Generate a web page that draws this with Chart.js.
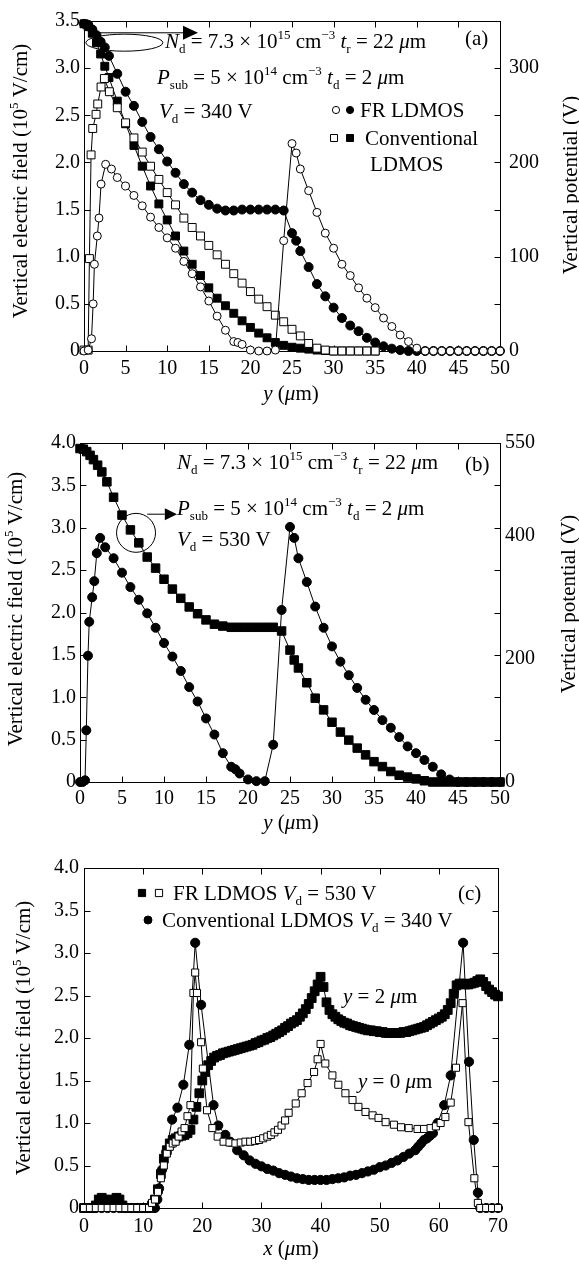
<!DOCTYPE html>
<html>
<head>
<meta charset="utf-8">
<script src="https://cdn.jsdelivr.net/npm/chart.js@4"></script>
<style>
  html, body { margin: 0; padding: 0; background: #fff; }
  body { width: 579px; height: 1267px; position: relative; overflow: hidden; }
  canvas { position: absolute; left: 0; }
</style>
</head>
<body>
<canvas id="ca" width="579" height="415" style="top:0px"></canvas>
<canvas id="cb" width="579" height="420" style="top:420px"></canvas>
<canvas id="cc" width="579" height="427" style="top:840px"></canvas>
<script>
// ---- panel (a): y in um, field in 1e5 V/cm, potential in V ----
const aFrFieldX = [0, 0.5, 0.9, 1.1, 1.25, 1.6, 1.8, 2.05, 2.6, 3.3, 4, 5, 6, 7, 8, 9, 10, 11, 12, 13, 14, 15, 16, 17, 18, 18.5, 19, 20, 21, 22, 23, 24, 25, 25.5, 26, 27, 28, 29, 30, 31, 32, 33, 34, 35, 36, 37, 38, 39, 40, 41, 42, 43, 44, 45, 46, 47, 48, 49, 50];
const aFrFieldE = [0, 0.01, 0.13, 0.5, 0.92, 1.22, 1.41, 1.77, 1.98, 1.93, 1.84, 1.75, 1.65, 1.54, 1.42, 1.31, 1.2, 1.09, 0.95, 0.82, 0.68, 0.53, 0.37, 0.22, 0.1, 0.09, 0.07, 0.01, 0, 0, 0.01, 1.17, 2.2, 2.1, 1.93, 1.7, 1.47, 1.25, 1.09, 0.92, 0.8, 0.67, 0.56, 0.46, 0.35, 0.26, 0.17, 0.1, 0.03, 0, 0, 0, 0, 0, 0, 0, 0, 0, 0];
const aConFieldX = [0, 0.5, 0.65, 0.85, 1.05, 1.45, 1.65, 2.05, 2.45, 3.05, 4, 5, 6, 7, 8, 9, 10, 11, 12, 13, 14, 15, 16, 17, 18, 19, 20, 21, 22, 23, 24, 25, 26, 27, 28, 29, 30, 31, 32, 33, 34, 35];
const aConFieldE = [0.01, 0.01, 0.98, 2.08, 2.36, 2.51, 2.62, 2.8, 2.89, 2.75, 2.58, 2.42, 2.26, 2.11, 1.96, 1.82, 1.68, 1.55, 1.41, 1.31, 1.22, 1.12, 1.02, 0.92, 0.82, 0.72, 0.63, 0.55, 0.47, 0.38, 0.31, 0.23, 0.16, 0.08, 0.03, 0.01, 0, 0, 0, 0, 0, 0];
const aFrPotX = [0, 0.5, 1, 1.5, 2, 2.5, 3, 4, 5, 6, 7, 8, 9, 10, 11, 12, 13, 14, 15, 16, 17, 18, 19, 20, 21, 22, 23, 24, 25, 25.5, 26, 27, 28, 29, 30, 31, 32, 33, 34, 35, 36, 37, 38, 39, 40, 41, 42, 43, 44, 45, 46, 47, 48, 49, 50];
const aFrPotV = [347, 346, 341, 335, 328, 322, 313, 294, 275, 260, 243, 227, 214, 201, 189, 177, 168, 160, 155, 151, 149, 149, 150, 150, 150, 150, 150, 149, 125, 117, 106, 89, 71, 58, 46, 35, 27, 21, 14, 9, 5, 2.5, 1, 0, 0, 0, 0, 0, 0, 0, 0, 0, 0, 0, 0];
const aConPotX = [0, 0.5, 1, 1.5, 2, 2.5, 3, 4, 5, 6, 7, 8, 9, 10, 11, 12, 13, 14, 15, 16, 17, 18, 19, 20, 21, 22, 23, 24, 25, 26, 27, 28, 29, 30, 31, 32, 33, 34, 35];
const aConPotV = [347, 344, 337, 327, 315, 302, 290, 265, 241, 218, 196, 175, 156, 139, 122, 106, 92, 80, 67, 56, 48, 40, 32, 25, 19, 14, 9, 6, 4, 3, 2, 1, 0.5, 0, 0, 0, 0, 0, 0];
const aRightTicks = [0, 100, 200, 300];

// ---- panel (b) ----
const bPotX = [0, 0.4, 0.8, 1.2, 1.6, 2.1, 2.6, 3.2, 4, 5, 6, 7, 8, 9, 10, 11, 12, 13, 14, 15, 16, 17, 18, 19, 20, 21, 22, 23, 24, 25, 25.5, 26, 27, 28, 29, 30, 31, 32, 33, 34, 35, 36, 37, 38, 39, 40, 41, 42, 43, 44, 45, 46, 47, 48, 49, 50];
const bPotV = [541, 540, 536, 530, 523, 514, 503, 487, 462, 433, 409, 388, 365, 347, 329, 313, 298, 284, 273, 263, 256, 253, 251, 251, 251, 251, 251, 251, 245, 214, 198, 185, 161, 136, 117, 97, 81, 68, 55, 44, 33, 25, 17, 11, 8, 5, 2, 0, 0, 0, 0, 0, 0, 0, 0, 0];
const bFieldX = [0, 0.3, 0.6, 0.75, 0.95, 1.1, 1.45, 1.7, 2.0, 2.4, 3, 4, 5, 6, 7, 8, 9, 10, 11, 12, 13, 14, 15, 16, 17, 18, 18.5, 19, 20, 21, 22, 23, 24, 25, 25.5, 26, 27, 28, 29, 30, 31, 32, 33, 34, 35, 36, 37, 38, 39, 40, 41, 42, 43, 44, 45, 46, 47, 48, 49, 50];
const bFieldE = [0, 0, 0.02, 0.61, 1.49, 1.89, 2.18, 2.37, 2.7, 2.88, 2.77, 2.64, 2.47, 2.3, 2.15, 1.99, 1.82, 1.64, 1.48, 1.31, 1.12, 0.95, 0.75, 0.56, 0.34, 0.18, 0.15, 0.1, 0.03, 0.01, 0.01, 0.44, 2.03, 3.01, 2.88, 2.64, 2.36, 2.07, 1.82, 1.6, 1.42, 1.26, 1.11, 0.97, 0.85, 0.73, 0.64, 0.53, 0.42, 0.34, 0.26, 0.18, 0.09, 0.03, 0, 0, 0, 0, 0, 0];
const bRightTicks = [0, 200, 400, 550];

// ---- panel (c): x in um ----
const cY2X = [0, 0.5, 1, 1.5, 2, 2.5, 3, 3.5, 4, 4.5, 5, 5.5, 6, 6.5, 7, 7.5, 8, 8.5, 9, 9.5, 10, 10.5, 11, 11.5, 12, 12.5, 13, 13.5, 14, 14.5, 15, 15.5, 16, 16.5, 17, 17.5, 18, 18.5, 19, 19.5, 20, 20.5, 21, 21.5, 22, 22.5, 23, 23.5, 24, 24.5, 25, 25.5, 26, 26.5, 27, 27.5, 28, 28.5, 29, 29.5, 30, 30.5, 31, 31.5, 32, 32.5, 33, 33.5, 34, 34.5, 35, 35.5, 36, 36.5, 37, 37.5, 38, 38.5, 39, 39.5, 40, 40.5, 41, 41.5, 42, 42.5, 43, 43.5, 44, 44.5, 45, 45.5, 46, 46.5, 47, 47.5, 48, 48.5, 49, 49.5, 50, 50.5, 51, 51.5, 52, 52.5, 53, 53.5, 54, 54.5, 55, 55.5, 56, 56.5, 57, 57.5, 58, 58.5, 59, 59.5, 60, 60.5, 61, 61.5, 62, 62.5, 63, 63.5, 64, 64.5, 65, 65.5, 66, 66.5, 67, 67.5, 68, 68.5, 69, 69.5, 70];
const cY2E = [0, 0, 0, 0, 0.03, 0.1, 0.12, 0.1, 0.03, 0.02, 0.1, 0.12, 0.1, 0.03, 0, 0, 0, 0, 0, 0, 0, 0, 0, 0.03, 0.1, 0.22, 0.4, 0.58, 0.68, 0.76, 0.8, 0.82, 0.84, 0.85, 0.86, 0.88, 0.92, 1.04, 1.19, 1.35, 1.5, 1.6, 1.68, 1.73, 1.77, 1.79, 1.8, 1.82, 1.83, 1.84, 1.85, 1.86, 1.87, 1.88, 1.89, 1.9, 1.91, 1.92, 1.94, 1.95, 1.97, 1.98, 2.0, 2.01, 2.03, 2.05, 2.07, 2.09, 2.12, 2.14, 2.17, 2.19, 2.21, 2.25, 2.29, 2.34, 2.4, 2.47, 2.55, 2.63, 2.72, 2.6, 2.42, 2.33, 2.28, 2.25, 2.22, 2.2, 2.18, 2.17, 2.15, 2.14, 2.13, 2.12, 2.11, 2.1, 2.09, 2.09, 2.08, 2.08, 2.07, 2.07, 2.06, 2.06, 2.06, 2.06, 2.06, 2.06, 2.07, 2.07, 2.08, 2.09, 2.1, 2.11, 2.12, 2.13, 2.15, 2.17, 2.19, 2.21, 2.23, 2.25, 2.28, 2.33, 2.41, 2.52, 2.62, 2.64, 2.64, 2.63, 2.63, 2.64, 2.65, 2.67, 2.69, 2.66, 2.61, 2.57, 2.54, 2.51, 2.49];
const cY0X = [0, 1, 2, 3, 4, 5, 6, 7, 8, 9, 10, 11, 11.5, 12, 12.5, 13, 13.5, 14, 14.5, 15, 15.5, 16, 16.5, 17, 17.5, 18, 18.5, 18.8, 19.1, 19.8, 20.1, 20.8, 21.7, 22.6, 23.6, 24.6, 25.6, 26.5, 27.3, 28.1, 28.9, 29.6, 30.3, 31.0, 31.6, 32.2, 32.8, 33.4, 34.0, 34.6, 35.8, 36.8, 37.8, 38.9, 39.5, 40.0, 40.8, 42.0, 43.0, 44.2, 45.4, 46.4, 47.6, 48.8, 49.8, 51.0, 52.4, 53.6, 54.9, 56.4, 57.5, 58.6, 59.5, 60.3, 61.1, 62.0, 62.9, 64.0, 65.0, 66.0, 66.6, 67, 68, 69, 70];
const cY0E = [0, 0, 0, 0, 0, 0, 0, 0, 0, 0, 0, 0, 0.06, 0.1, 0.19, 0.35, 0.5, 0.64, 0.72, 0.76, 0.78, 0.84, 0.9, 0.94, 1.08, 1.21, 2.53, 2.77, 2.53, 1.95, 1.64, 1.15, 0.94, 0.84, 0.78, 0.77, 0.76, 0.77, 0.78, 0.78, 0.79, 0.8, 0.82, 0.84, 0.86, 0.89, 0.92, 0.97, 1.03, 1.12, 1.23, 1.35, 1.47, 1.6, 1.75, 1.93, 1.7, 1.56, 1.45, 1.35, 1.27, 1.19, 1.13, 1.09, 1.06, 1.01, 0.98, 0.95, 0.94, 0.93, 0.93, 0.94, 0.96, 1.0, 1.07, 1.24, 1.65, 2.41, 1.01, 0.35, 0.06, 0, 0, 0, 0];
const cConX = [0, 1, 2, 3, 4, 5, 6, 7, 8, 9, 10, 11, 12, 12.4, 12.7, 13.2, 13.9, 14.9, 15.8, 16.8, 17.8, 18.8, 19.8, 21.9, 22.7, 23.9, 24.7, 25.9, 27, 28, 29, 30, 31, 32, 33, 34, 35, 36, 37, 38, 39, 40, 41, 42, 43, 44, 45, 46, 47, 48, 49, 50, 51, 52, 53, 54, 55, 56, 56.5, 57, 57.5, 58, 58.5, 59, 59.8, 60.9, 62, 64.1, 65.1, 65.9, 66.6, 67, 68, 69, 70];
const cConE = [0, 0, 0, 0, 0, 0, 0, 0, 0, 0, 0, 0, 0, 0.1, 0.23, 0.45, 0.66, 1.04, 1.18, 1.45, 1.92, 3.12, 2.39, 1.21, 0.97, 0.86, 0.78, 0.68, 0.62, 0.56, 0.52, 0.49, 0.46, 0.44, 0.41, 0.39, 0.37, 0.35, 0.34, 0.33, 0.33, 0.33, 0.33, 0.34, 0.35, 0.36, 0.38, 0.39, 0.41, 0.43, 0.45, 0.48, 0.5, 0.53, 0.56, 0.6, 0.64, 0.68, 0.72, 0.76, 0.8, 0.82, 0.85, 0.88, 1.0, 1.21, 1.56, 3.12, 1.72, 0.8, 0.18, 0, 0, 0, 0];

// ---- texts ----
const SERIF = '"Liberation Serif", "DejaVu Serif", serif';
const fieldTitle = [['Vertical electric field (10', ''], ['5', 'sup'], [' V/cm)', '']];
const potTitle = [['Vertical potential (V)', '']];
const yTitle = [['y', 'i'], [' (', ''], ['\u03bc', 'i'], ['m)', '']];
const xTitle = [['x', 'i'], [' (', ''], ['\u03bc', 'i'], ['m)', '']];
const ndLine = [['N', 'i'], ['d', 'sub'], [' = 7.3 \u00d7 10', ''], ['15', 'sup'], [' cm', ''], ['\u22123', 'sup'], [' ', ''], ['t', 'i'], ['r', 'sub'], [' = 22 ', ''], ['\u03bc', 'i'], ['m', '']];
const psLine = [['P', 'i'], ['sub', 'sub'], [' = 5 \u00d7 10', ''], ['14', 'sup'], [' cm', ''], ['\u22123', 'sup'], [' ', ''], ['t', 'i'], ['d', 'sub'], [' = 2 ', ''], ['\u03bc', 'i'], ['m', '']];
const vd340 = [['V', 'i'], ['d', 'sub'], [' = 340 V', '']];
const vd530 = [['V', 'i'], ['d', 'sub'], [' = 530 V', '']];
const cLeg1 = [['FR LDMOS ', ''], ['V', 'i'], ['d', 'sub'], [' = 530 V', '']];
const cLeg2 = [['Conventional LDMOS ', ''], ['V', 'i'], ['d', 'sub'], [' = 340 V', '']];
const y2Label = [['y', 'i'], [' = 2 ', ''], ['\u03bc', 'i'], ['m', '']];
const y0Label = [['y', 'i'], [' = 0 ', ''], ['\u03bc', 'i'], ['m', '']];

// ---- text helpers ----
function setFont(ctx, kind, size) {
  const small = kind === 'sub' || kind === 'sup';
  ctx.font = (kind === 'i' ? 'italic ' : '') + (small ? size * 0.62 : size) + 'px ' + SERIF;
}
function richWidth(ctx, parts, size) {
  let w = 0;
  for (const [t, k] of parts) { setFont(ctx, k, size); w += ctx.measureText(t).width; }
  return w;
}
function rich(ctx, parts, x, y, size) {
  ctx.fillStyle = '#000';
  ctx.textAlign = 'left';
  ctx.textBaseline = 'alphabetic';
  let cx = x;
  for (const [t, k] of parts) {
    setFont(ctx, k, size);
    const dy = k === 'sub' ? size * 0.22 : k === 'sup' ? -size * 0.42 : 0;
    ctx.fillText(t, cx, y + dy);
    cx += ctx.measureText(t).width;
  }
}
function richCentered(ctx, parts, x, y, size, angle) {
  const w = richWidth(ctx, parts, size);
  ctx.save();
  ctx.translate(x, y);
  ctx.rotate(angle || 0);
  rich(ctx, parts, -w / 2, 0, size);
  ctx.restore();
}
function marker(ctx, kind, x, y, r) {
  ctx.save();
  ctx.beginPath();
  if (kind[1] === 's') ctx.rect(x - r, y - r, 2 * r, 2 * r);
  else ctx.arc(x, y, r, 0, Math.PI * 2);
  ctx.fillStyle = kind[0] === 'f' ? '#000' : '#fff';
  ctx.fill();
  ctx.lineWidth = 1;
  ctx.strokeStyle = '#000';
  ctx.stroke();
  ctx.restore();
}
function arrow(ctx, x1, xb, xt, y, h) {
  ctx.save();
  ctx.strokeStyle = '#000';
  ctx.lineWidth = 1;
  ctx.beginPath(); ctx.moveTo(x1, y); ctx.lineTo(xb, y); ctx.stroke();
  ctx.beginPath(); ctx.moveTo(xb, y - h); ctx.lineTo(xt, y); ctx.lineTo(xb, y + h); ctx.closePath();
  ctx.fillStyle = '#000'; ctx.fill();
  ctx.restore();
}

// frame + inward ticks on all four sides
const framePlugin = {
  id: 'frame',
  beforeDatasetsDraw(chart) {
    const { ctx, chartArea: a, scales } = chart;
    const L = Math.round(a.left) + 0.5, R = Math.round(a.right) + 0.5;
    const T = Math.round(a.top) + 0.5, B = Math.round(a.bottom) + 0.5;
    const len = 6;
    ctx.save();
    ctx.strokeStyle = '#000';
    ctx.lineWidth = 1;
    ctx.strokeRect(L, T, R - L, B - T);
    ctx.beginPath();
    scales.x.ticks.forEach(t => {
      const p = Math.round(scales.x.getPixelForValue(t.value)) + 0.5;
      ctx.moveTo(p, B); ctx.lineTo(p, B - len);
      ctx.moveTo(p, T); ctx.lineTo(p, T + len);
    });
    scales.y.ticks.forEach(t => {
      const p = Math.round(scales.y.getPixelForValue(t.value)) + 0.5;
      ctx.moveTo(L, p); ctx.lineTo(L + len, p);
      ctx.moveTo(R, p); ctx.lineTo(R - len, p);
    });
    ctx.stroke();
    ctx.restore();
  }
};

function series(xs, ys, kind, r, axis) {
  return {
    data: xs.map((x, i) => ({ x, y: ys[i] })),
    yAxisID: axis || 'y',
    showLine: true,
    borderColor: '#000',
    borderWidth: 1,
    pointStyle: kind[1] === 's' ? 'rect' : 'circle',
    pointRadius: r,
    pointBackgroundColor: kind[0] === 'f' ? '#000' : '#fff',
    pointBorderColor: '#000',
    pointBorderWidth: 1,
    tension: 0,
    fill: false,
    clip: false
  };
}

const tickFont = { family: SERIF, size: 20 };

function xScale(max, step, h, pad) {
  return {
    type: 'linear', min: 0, max,
    ticks: { stepSize: step, color: '#000', font: tickFont, padding: pad, maxRotation: 0, autoSkip: false },
    grid: { display: false, drawTicks: false },
    border: { display: false },
    afterFit(s) { s.height = h; }
  };
}
function yScale(max, w, pad) {
  return {
    type: 'linear', min: 0, max,
    ticks: {
      stepSize: 0.5, color: '#000', font: tickFont, padding: pad, autoSkip: false,
      callback: v => (v === 0 ? '0' : v.toFixed(1))
    },
    grid: { display: false, drawTicks: false },
    border: { display: false },
    afterFit(s) { s.width = w; }
  };
}
function rightScale(max, tickVals, w, pad) {
  return {
    type: 'linear', position: 'right', min: 0, max,
    afterBuildTicks(s) { s.ticks = tickVals.map(v => ({ value: v })); },
    ticks: { color: '#000', font: tickFont, padding: pad, autoSkip: false },
    grid: { display: false, drawTicks: false },
    border: { display: false },
    afterFit(s) { s.width = w; }
  };
}

function makeChart(id, datasets, scales, padding, deco) {
  return new Chart(document.getElementById(id), {
    type: 'scatter',
    data: { datasets },
    options: {
      responsive: false,
      animation: false,
      devicePixelRatio: 1,
      layout: { padding },
      plugins: { legend: { display: false }, tooltip: { enabled: false } },
      scales
    },
    plugins: [framePlugin, { id: 'deco', afterDraw: c => deco(c, c.ctx) }]
  });
}

const TXT = 21;

// (a)
makeChart('ca', [
  series(aFrFieldX, aFrFieldE, 'oc', 4),
  series(aConFieldX, aConFieldE, 'os', 5.6),
  series(aFrPotX, aFrPotV, 'fc', 4.5, 'y2'),
  series(aConPotX, aConPotV, 'fs', 5.6, 'y2')
], {
  x: xScale(50, 5, 64, 6),
  y: yScale(3.5, 84, 4),
  y2: rightScale(350, aRightTicks, 79, 9)
}, { top: 13, left: 0, right: 0, bottom: 0 }, (c, ctx) => {
  const sx = c.scales.x, sy = c.scales.y;
  // ellipse around the potential curves + arrow to the right axis
  ctx.save();
  ctx.strokeStyle = '#000'; ctx.lineWidth = 1;
  ctx.beginPath();
  ctx.ellipse(sx.getPixelForValue(4.85), sy.getPixelForValue(3.27),
    sx.getPixelForValue(4.63) - sx.getPixelForValue(0), 8.5, 0, 0, Math.PI * 2);
  ctx.stroke();
  ctx.restore();
  arrow(ctx, sx.getPixelForValue(1.6), sx.getPixelForValue(11.9), sx.getPixelForValue(13.7), sy.getPixelForValue(3.375), 7);
  rich(ctx, ndLine, 165, 48, TXT);
  rich(ctx, psLine, 157, 84, TXT);
  rich(ctx, vd340, 159, 118, TXT);
  rich(ctx, [['(a)', '']], 465, 45, TXT);
  marker(ctx, 'oc', 336, 110, 3.6);
  marker(ctx, 'fc', 350, 110, 3.6);
  rich(ctx, [['FR LDMOS', '']], 360, 117, TXT);
  marker(ctx, 'os', 334, 138, 3.5);
  marker(ctx, 'fs', 350, 138, 3.5);
  rich(ctx, [['Conventional', '']], 365, 145, TXT);
  rich(ctx, [['LDMOS', '']], 370, 171, TXT);
  richCentered(ctx, fieldTitle, 27, 181, TXT, -Math.PI / 2);
  richCentered(ctx, potTitle, 577, 185, TXT, -Math.PI / 2);
  richCentered(ctx, yTitle, 291, 400, TXT);
});

// (b)
makeChart('cb', [
  series(bFieldX, bFieldE, 'fc', 4.5),
  series(bPotX, bPotV, 'fs', 6, 'y2')
], {
  x: xScale(50, 5, 58, 5),
  y: yScale(4.0, 80, 4),
  y2: rightScale(550, bRightTicks, 79, 5)
}, { top: 23, left: 0, right: 0, bottom: 0 }, (c, ctx) => {
  const sx = c.scales.x, sy = c.scales.y;
  ctx.save();
  ctx.strokeStyle = '#000'; ctx.lineWidth = 1;
  ctx.beginPath();
  ctx.arc(sx.getPixelForValue(6.67), sy.getPixelForValue(2.94),
    sx.getPixelForValue(2.32) - sx.getPixelForValue(0), 0, Math.PI * 2);
  ctx.stroke();
  ctx.restore();
  arrow(ctx, sx.getPixelForValue(8.0), sx.getPixelForValue(10.1), sx.getPixelForValue(11.55), sy.getPixelForValue(3.16), 6);
  rich(ctx, ndLine, 177, 49, TXT);
  rich(ctx, psLine, 177, 95, TXT);
  rich(ctx, vd530, 177, 126, TXT);
  rich(ctx, [['(b)', '']], 465, 51, TXT);
  richCentered(ctx, fieldTitle, 22, 189, TXT, -Math.PI / 2);
  richCentered(ctx, potTitle, 575, 184, TXT, -Math.PI / 2);
  richCentered(ctx, yTitle, 291, 409, TXT);
});

// (c)
makeChart('cc', [
  series(cY0X, cY0E, 'os', 5),
  series(cConX, cConE, 'fc', 4.6),
  series(cY2X, cY2E, 'fs', 6.2)
], {
  x: xScale(70, 10, 59, 7),
  y: yScale(4.0, 84, 5)
}, { top: 28, left: 0, right: 81, bottom: 0 }, (c, ctx) => {
  marker(ctx, 'fs', 142, 53, 3.6);
  marker(ctx, 'os', 159, 53, 3.6);
  rich(ctx, cLeg1, 173, 60, TXT);
  marker(ctx, 'fc', 148, 80, 4);
  rich(ctx, cLeg2, 162, 87, TXT);
  rich(ctx, [['(c)', '']], 458, 60, TXT);
  rich(ctx, y2Label, 343, 163, TXT);
  rich(ctx, y0Label, 358, 248, TXT);
  richCentered(ctx, fieldTitle, 30, 198, TXT, -Math.PI / 2);
  richCentered(ctx, xTitle, 291, 415, TXT);
});
</script>
</body>
</html>
